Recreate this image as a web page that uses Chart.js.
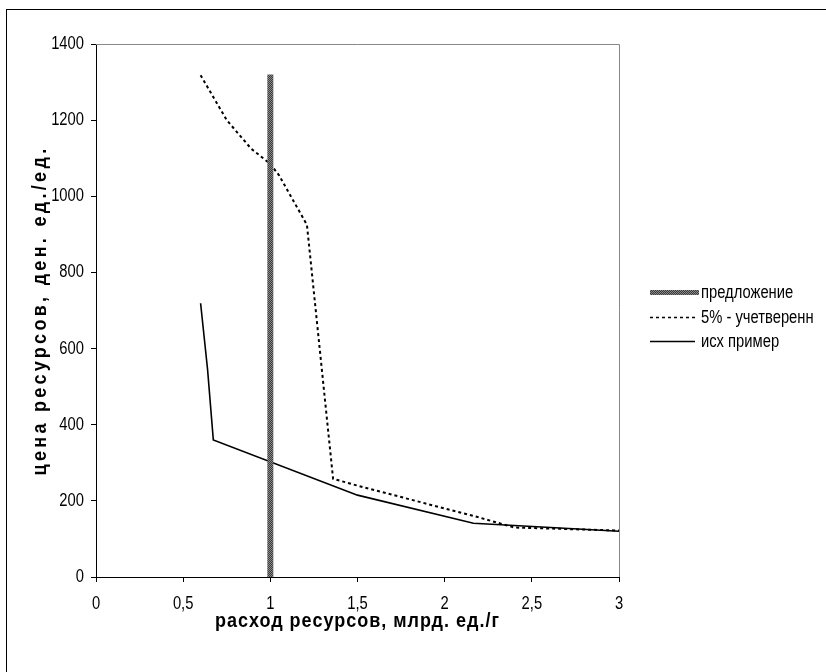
<!DOCTYPE html>
<html>
<head>
<meta charset="utf-8">
<script src="https://cdn.jsdelivr.net/npm/chart.js@4"></script>
<style>
  html, body { margin: 0; padding: 0; background: #fff; }
  #wrap { width: 826px; height: 672px; }
</style>
</head>
<body>
<div id="wrap"><canvas id="c" width="826" height="672"></canvas></div>
<script>
// ---- data ----
const seriesNames = ["предложение", "5% - учетверенн", "исх пример"];
const supplyX = [1, 1];
const supplyY = [0, 1320];
const quadX = [0.6, 0.75, 0.89, 1.0, 1.05, 1.21, 1.36, 1.5, 1.75, 2.0, 2.17, 2.4, 3.0];
const quadY = [1318, 1200, 1125, 1085, 1055, 925, 258, 240, 210, 180, 160, 130, 122];
const baseX = [0.6, 0.64, 0.673, 1.5, 2.165, 3.0];
const baseY = [719, 545, 360, 215, 141, 120];
const xTicks = [0, 0.5, 1, 1.5, 2, 2.5, 3];
const yTicks = [0, 200, 400, 600, 800, 1000, 1200, 1400];
const xTitle = "расход ресурсов, млрд. ед./г";
const yTitle = "цена ресурсов, ден. ед./ед.";

const FONT = "'Liberation Sans', Arial, sans-serif";
const NARROW = 0.82; // default horizontal squeeze to mimic a narrow face
const TEXTSTYLE = {}; // per-text squeeze / letter spacing for the axis titles
TEXTSTYLE[xTitle] = { sq: 0.9, sp: 1.0 };
TEXTSTYLE[yTitle] = { sq: 0.9, sp: 3.3 };

const canvas = document.getElementById('c');
const ctx0 = canvas.getContext('2d');
(function () {
  const origFill = ctx0.fillText.bind(ctx0);
  const origMeasure = ctx0.measureText.bind(ctx0);
  ctx0.fillText = function (t, x, y) {
    const st = TEXTSTYLE[t];
    const sq = st ? st.sq : NARROW;
    this.save();
    this.translate(x, y);
    this.scale(sq, 1);
    if (st) this.letterSpacing = (st.sp / sq) + 'px';
    origFill(t, 0, 0);
    this.restore();
  };
  ctx0.measureText = function (t) {
    const st = TEXTSTYLE[t];
    const sq = st ? st.sq : NARROW;
    const prev = this.letterSpacing;
    if (st) this.letterSpacing = (st.sp / sq) + 'px';
    const m = origMeasure(t);
    if (st) this.letterSpacing = prev;
    return {
      width: m.width * sq,
      actualBoundingBoxAscent: m.actualBoundingBoxAscent,
      actualBoundingBoxDescent: m.actualBoundingBoxDescent,
      actualBoundingBoxLeft: m.actualBoundingBoxLeft * sq,
      actualBoundingBoxRight: m.actualBoundingBoxRight * sq
    };
  };
})();

function pts(xs, ys) { return xs.map((x, i) => ({ x: x, y: ys[i] })); }

function makePattern() {
  const p = document.createElement('canvas');
  p.width = 2; p.height = 2;
  const g = p.getContext('2d');
  g.fillStyle = '#3a3a3a'; g.fillRect(0, 0, 2, 2);
  g.fillStyle = '#8a8a8a'; g.fillRect(0, 0, 1, 1); g.fillRect(1, 1, 1, 1);
  return ctx0.createPattern(p, 'repeat');
}
const hatch = makePattern();

const framePlugin = {
  id: 'frame',
  beforeDraw(chart) {
    const ctx = chart.ctx;
    ctx.save();
    ctx.fillStyle = '#fff';
    ctx.fillRect(0, 0, chart.width, chart.height);
    ctx.strokeStyle = '#000';
    ctx.lineWidth = 1;
    ctx.strokeRect(6.5, 9.5, chart.width + 10, chart.height + 10);
    ctx.restore();
  },
  beforeDatasetsDraw(chart) {
    const a = chart.chartArea, ctx = chart.ctx;
    ctx.save();
    ctx.strokeStyle = '#888';
    ctx.lineWidth = 1;
    ctx.beginPath();
    ctx.moveTo(a.left, Math.round(a.top) + 0.5);
    ctx.lineTo(Math.round(a.right) + 0.5, Math.round(a.top) + 0.5);
    ctx.lineTo(Math.round(a.right) + 0.5, a.bottom);
    ctx.stroke();
    ctx.restore();
  },
  afterDraw(chart) {
    const ctx = chart.ctx;
    const x0 = 650, x1 = 695, tx = 701;
    const ys = [292, 317, 341];
    ctx.save();
    chart.data.datasets.forEach((ds, i) => {
      const y = ys[i];
      ctx.beginPath();
      ctx.strokeStyle = ds.borderColor;
      ctx.lineWidth = i === 0 ? 5 : 1.5;
      ctx.setLineDash(ds.borderDash || []);
      ctx.moveTo(x0, y + 0.5);
      ctx.lineTo(i === 0 ? x1 + 4 : x1, y + 0.5);
      ctx.stroke();
      ctx.setLineDash([]);
      ctx.fillStyle = '#000';
      ctx.font = '18px ' + FONT;
      ctx.textBaseline = 'middle';
      ctx.textAlign = 'left';
      ctx.fillText(ds.label, tx, y + 1);
    });
    ctx.restore();
  }
};

new Chart(canvas, {
  type: 'scatter',
  data: {
    datasets: [
      { label: seriesNames[0], data: pts(supplyX, supplyY), showLine: true,
        borderColor: hatch, borderWidth: 6, pointRadius: 0, borderCapStyle: 'butt' },
      { label: seriesNames[1], data: pts(quadX, quadY), showLine: true,
        borderColor: '#000', borderWidth: 2, borderDash: [3, 3], pointRadius: 0, tension: 0 },
      { label: seriesNames[2], data: pts(baseX, baseY), showLine: true,
        borderColor: '#000', borderWidth: 1.6, pointRadius: 0, tension: 0 }
    ]
  },
  options: {
    responsive: false,
    animation: false,
    devicePixelRatio: 1,
    layout: { padding: { left: 0, top: 44, right: 207, bottom: 0 } },
    plugins: { legend: { display: false }, tooltip: { enabled: false } },
    scales: {
      x: {
        type: 'linear', min: 0, max: 3,
        afterBuildTicks(s) { s.ticks = xTicks.map(v => ({ value: v })); },
        afterFit(s) { s.height = 95; },
        grid: { drawOnChartArea: false, drawTicks: true, tickLength: 5, tickColor: '#000', lineWidth: 1 },
        border: { display: true, color: '#000', width: 1 },
        ticks: { color: '#000', padding: 11, maxRotation: 0,
          font: { family: FONT, size: 18 },
          callback: v => String(v).replace('.', ',') },
        title: { display: true, text: xTitle, color: '#000',
          font: { family: FONT, size: 20, weight: 'bold' }, padding: { top: 0, bottom: 39 } }
      },
      y: {
        type: 'linear', min: 0, max: 1400,
        afterBuildTicks(s) { s.ticks = yTicks.map(v => ({ value: v })); },
        afterFit(s) { s.width = 96; },
        grid: { drawOnChartArea: false, drawTicks: true, tickLength: 5, tickColor: '#000', lineWidth: 1 },
        border: { display: true, color: '#000', width: 1 },
        ticks: { color: '#000', padding: 7, font: { family: FONT, size: 18 },
          callback: v => String(v) },
        title: { display: true, text: yTitle, color: '#000',
          font: { family: FONT, size: 20, weight: 'bold' }, padding: { top: 28, bottom: 0 } }
      }
    }
  },
  plugins: [framePlugin]
});
</script>
</body>
</html>
